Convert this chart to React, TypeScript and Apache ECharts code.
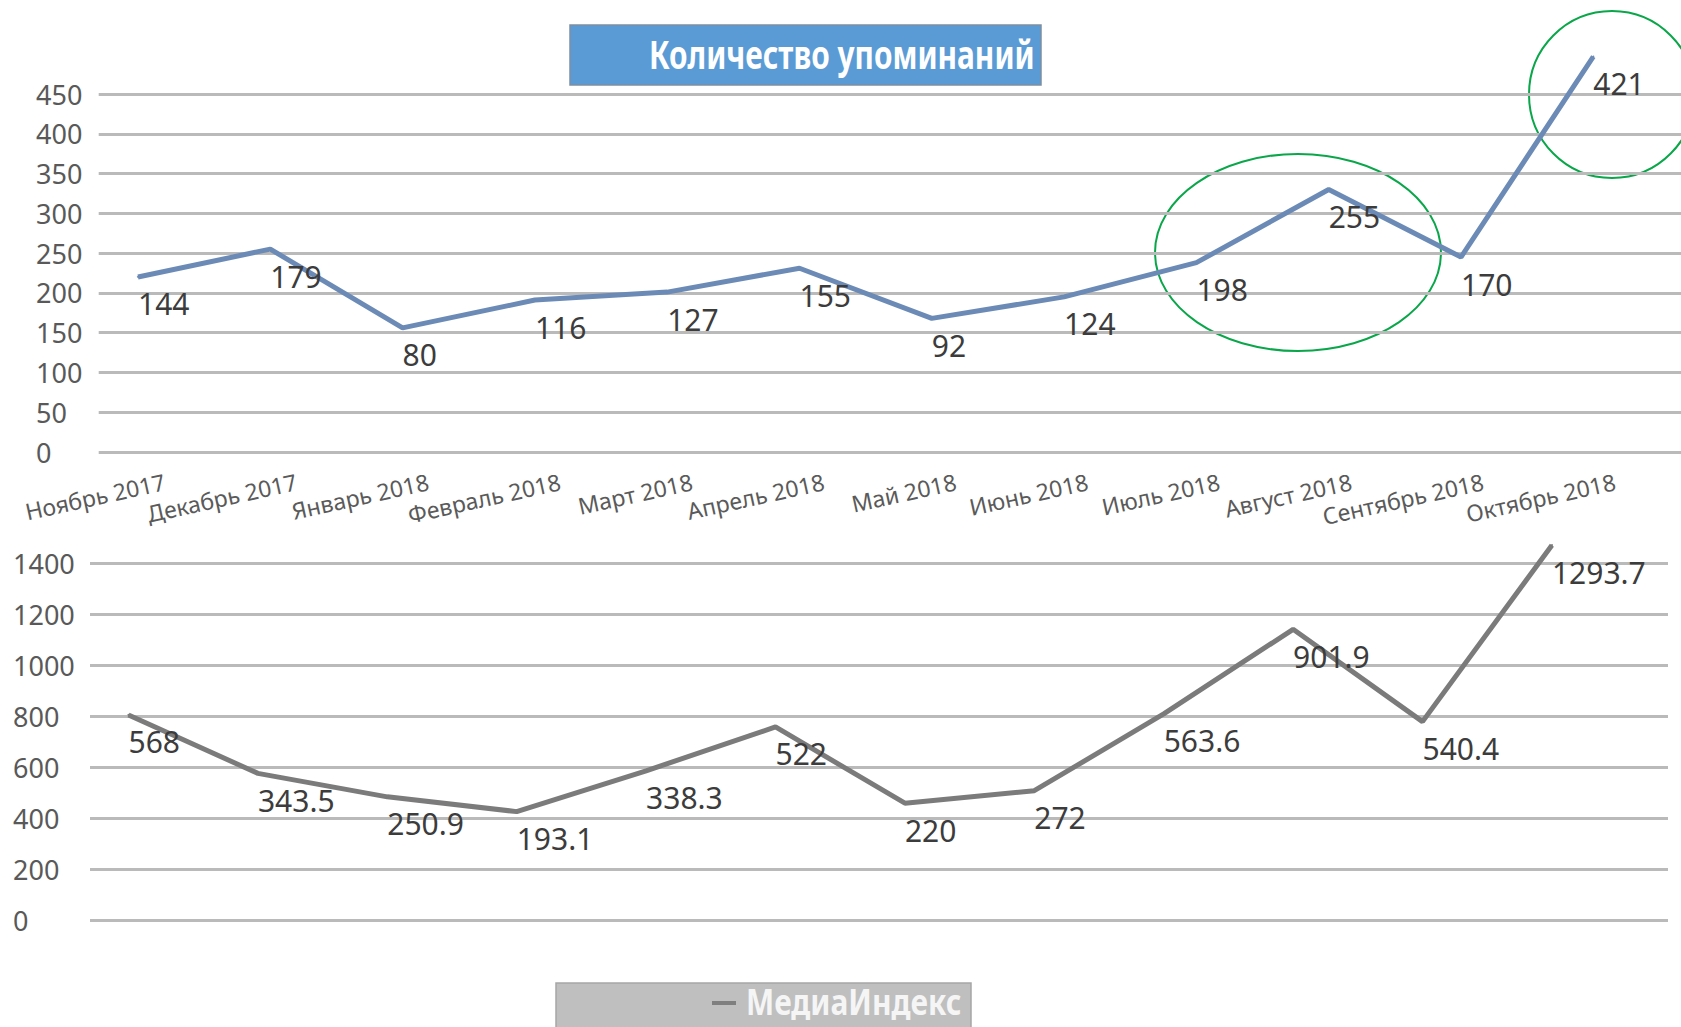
import React, { useEffect, useRef } from "react";
import * as echarts from "echarts";

// ---- data ----
const categories = [
  "Ноябрь 2017",
  "Декабрь 2017",
  "Январь 2018",
  "Февраль 2018",
  "Март 2018",
  "Апрель 2018",
  "Май 2018",
  "Июнь 2018",
  "Июль 2018",
  "Август 2018",
  "Сентябрь 2018",
  "Октябрь 2018",
];
// plotted positions of the "mentions" line
const mentionsLine = [220, 255, 156, 191, 201, 231, 168, 195, 238, 330, 245, 497];
// data labels printed next to the points
const mentionsLabels = ["144", "179", "80", "116", "127", "155", "92", "124", "198", "255", "170", "421"];
// plotted positions of the "MediaIndex" line
const mediaLine = [804, 575, 483, 425, 585, 757, 458, 507, 808, 1140, 778, 1470];
const mediaLabels = ["568", "343.5", "250.9", "193.1", "338.3", "522", "220", "272", "563.6", "901.9", "540.4", "1293.7"];

const topTitle = "Количество упоминаний";
const bottomLegend = "МедиаИндекс";
const topAxis = { min: 0, max: 450, interval: 50 };
const bottomAxis = { min: 0, max: 1400, interval: 200 };

const FONT = "'Noto Sans', 'DejaVu Sans', sans-serif";
const gridLine = { show: true, lineStyle: { color: "#bababa", width: 3 } };

export default function App() {
  const ref = useRef<HTMLDivElement>(null);
  useEffect(() => {
    const chart = echarts.init(ref.current!, null, { renderer: "svg" });
    const dataLabel = (labels: string[]) => ({
      show: true,
      position: "inside",
      align: "left",
      verticalAlign: "middle",
      offset: [0, 27],
      fontSize: 30,
      fontFamily: FONT,
      color: "#3c3c3c",
      formatter: (p: any) => labels[p.dataIndex],
    });
    const plainNumber = (v: number) => String(v);
    chart.setOption({
      animation: false,
      backgroundColor: "#ffffff",
      grid: [
        { left: 98.7, top: 94, width: 1592, height: 358 },
        { left: 71.85, top: 94, width: 1587.6, height: 358 },
        { left: 90, top: 563, width: 1578, height: 357 },
        { left: 63.8, top: 563, width: 1552.8, height: 357 },
      ],
      xAxis: [
        {
          gridIndex: 0,
          type: "category",
          data: categories,
          axisLine: { show: false },
          axisTick: { show: false },
          axisLabel: {
            interval: 0,
            rotate: 12.5,
            margin: 29,
            fontSize: 23,
            fontFamily: FONT,
            color: "#5a5a5a",
          },
        },
        { gridIndex: 1, type: "category", data: categories, show: false },
        { gridIndex: 2, type: "category", data: categories, show: false },
        { gridIndex: 3, type: "category", data: categories, show: false },
      ],
      yAxis: [
        {
          gridIndex: 0,
          type: "value",
          ...topAxis,
          axisLine: { show: false },
          axisTick: { show: false },
          splitLine: gridLine,
          axisLabel: {
            align: "left",
            margin: 62.7,
            fontSize: 27,
            fontFamily: FONT,
            color: "#595959",
            formatter: plainNumber,
          },
        },
        { gridIndex: 1, type: "value", ...topAxis, show: false, splitLine: { show: false } },
        {
          gridIndex: 2,
          type: "value",
          ...bottomAxis,
          axisLine: { show: false },
          axisTick: { show: false },
          splitLine: gridLine,
          axisLabel: {
            align: "left",
            margin: 77,
            fontSize: 27,
            fontFamily: FONT,
            color: "#595959",
            formatter: plainNumber,
          },
        },
        { gridIndex: 3, type: "value", ...bottomAxis, show: false, splitLine: { show: false } },
      ],
      series: [
        {
          name: topTitle,
          type: "line",
          xAxisIndex: 1,
          yAxisIndex: 1,
          data: mentionsLine,
          clip: false,
          symbol: "circle",
          symbolSize: 2,
          lineStyle: { color: "#6b8bb6", width: 5 },
          itemStyle: { color: "#6b8bb6" },
          label: dataLabel(mentionsLabels),
        },
        {
          name: bottomLegend,
          type: "line",
          xAxisIndex: 3,
          yAxisIndex: 3,
          data: mediaLine,
          clip: false,
          symbol: "circle",
          symbolSize: 2,
          lineStyle: { color: "#7b7b7b", width: 5 },
          itemStyle: { color: "#7b7b7b" },
          label: dataLabel(mediaLabels),
        },
      ],
      graphic: [
        {
          type: "rect",
          shape: { x: 570, y: 25, width: 471, height: 60 },
          style: { fill: "#5b9bd5", stroke: "#7d8fa3", lineWidth: 1.5 },
        },
        {
          type: "text",
          x: 649,
          y: 54,
          scaleX: 0.765,
          style: {
            text: topTitle,
            fontSize: 39,
            fontWeight: "bold",
            fontFamily: FONT,
            fill: "#ffffff",
            align: "left",
            verticalAlign: "middle",
          },
        },
        {
          type: "ellipse",
          shape: { cx: 1298, cy: 252.5, rx: 143, ry: 98.5 },
          style: { fill: "transparent", stroke: "#0aa64a", lineWidth: 2 },
        },
        {
          type: "ellipse",
          shape: { cx: 1612, cy: 94.5, rx: 83, ry: 83.5 },
          style: { fill: "transparent", stroke: "#0aa64a", lineWidth: 2 },
        },
        {
          type: "rect",
          shape: { x: 556, y: 983, width: 415, height: 60 },
          style: { fill: "#bfbfbf", stroke: "#a6a6a6", lineWidth: 1.5 },
        },
        {
          type: "line",
          shape: { x1: 712, y1: 1003, x2: 736, y2: 1003 },
          style: { stroke: "#7f7f7f", lineWidth: 4 },
        },
        {
          type: "text",
          x: 746,
          y: 1001,
          scaleX: 0.83,
          style: {
            text: bottomLegend,
            fontSize: 36,
            fontWeight: "bold",
            fontFamily: FONT,
            fill: "#f5f5f5",
            align: "left",
            verticalAlign: "middle",
          },
        },
      ],
    });
    return () => chart.dispose();
  }, []);
  return (
    <div
      ref={ref}
      style={{ position: "fixed", left: 0, top: 0, width: 1681, height: 1027, background: "#fff" }}
    />
  );
}
